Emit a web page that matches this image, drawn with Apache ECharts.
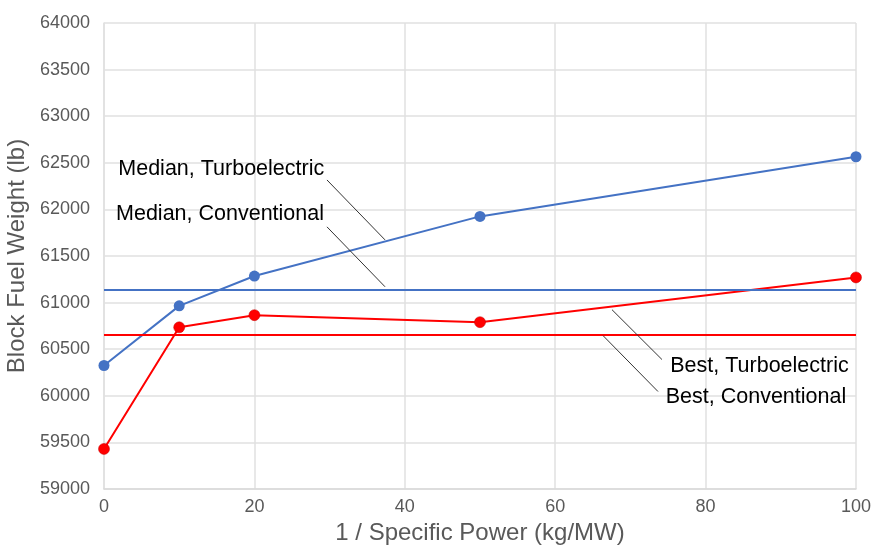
<!DOCTYPE html>
<html>
<head>
<meta charset="utf-8">
<script src="https://cdn.jsdelivr.net/npm/echarts@6/dist/echarts.min.js"></script>
<style>
html,body{margin:0;padding:0;background:#fff;}
#chart{width:875px;height:547px;}
</style>
</head>
<body>
<div id="chart"></div>
<script>
// Data
const xValues = [0, 10, 20, 50, 100];
const turboMedian = [60325, 60965, 61285, 61925, 62565];
const turboBest = [59430, 60735, 60865, 60790, 61270];
const convMedian = 61135;
const convBest = 60660;
const xTicks = [0, 20, 40, 60, 80, 100];
const yTicks = [59000, 59500, 60000, 60500, 61000, 61500, 62000, 62500, 63000, 63500, 64000];

// Annotations (data coordinates)
const annoLabels = ['Median, Turboelectric', 'Median, Conventional', 'Best, Turboelectric', 'Best, Conventional'];
const annoText = [[1.9, 62435], [1.6, 61945], [75.3, 60315], [74.7, 59985]];
const annoLeaders = [
  [[29.65, 62316], [37.37, 61673]],
  [[29.65, 61813], [37.37, 61170]],
  [[67.55, 60924], [74.2, 60389]],
  [[66.36, 60646], [73.67, 60046]]
];

const FONT = '"Liberation Sans", Arial, Helvetica, sans-serif';
const chart = echarts.init(document.getElementById('chart'), null, {renderer: 'canvas'});

function pairs(xs, ys) { return xs.map((x, i) => [x, ys[i]]); }

const option = {
  animation: false,
  backgroundColor: '#ffffff',
  grid: {left: 104, right: 19, top: 23, bottom: 58, containLabel: false, outerBoundsMode: 'none'},
  xAxis: {
    type: 'value', min: xTicks[0], max: xTicks[xTicks.length - 1], interval: 20,
    name: '1 / Specific Power (kg/MW)', nameLocation: 'middle', nameGap: 29,
    nameTextStyle: {fontFamily: FONT, fontSize: 24, color: '#595959'},
    axisLine: {show: true, lineStyle: {color: '#d9d9d9', width: 1.5}},
    axisTick: {show: false},
    axisLabel: {fontFamily: FONT, fontSize: 18, color: '#595959', margin: 9, formatter: v => String(v)},
    splitLine: {show: true, lineStyle: {color: '#e0e0e0', width: 1.5}}
  },
  yAxis: {
    type: 'value', min: yTicks[0], max: yTicks[yTicks.length - 1], interval: 500,
    name: 'Block Fuel Weight (lb)', nameLocation: 'middle', nameGap: 70,
    nameTextStyle: {fontFamily: FONT, fontSize: 24, color: '#595959'},
    axisLine: {show: true, lineStyle: {color: '#e0e0e0', width: 1.5}},
    axisTick: {show: false},
    axisLabel: {fontFamily: FONT, fontSize: 18, color: '#595959', margin: 14, formatter: v => String(v)},
    splitLine: {show: true, lineStyle: {color: '#e0e0e0', width: 1.5}}
  },
  series: [
    {
      name: 'Turboelectric Median', type: 'line', data: pairs(xValues, turboMedian),
      symbol: 'circle', symbolSize: 11,
      lineStyle: {color: '#4472C4', width: 2}, itemStyle: {color: '#4472C4'},
      markLine: {
        silent: true, symbol: 'none', label: {show: false},
        lineStyle: {color: '#4472C4', width: 2, type: 'solid'},
        data: [{yAxis: convMedian}]
      },
      z: 3
    },
    {
      name: 'Turboelectric Best', type: 'line', data: pairs(xValues, turboBest),
      symbol: 'circle', symbolSize: 11,
      lineStyle: {color: '#FF0000', width: 2}, itemStyle: {color: '#FF0000', borderColor: '#c40000', borderWidth: 0.5},
      markLine: {
        silent: true, symbol: 'none', label: {show: false},
        lineStyle: {color: '#FF0000', width: 2, type: 'solid'},
        data: [{yAxis: convBest}]
      },
      z: 3
    },
    {
      name: 'annotations', type: 'line', data: [], silent: true,
      markLine: {
        silent: true, symbol: 'none', label: {show: false},
        lineStyle: {color: '#333333', width: 1, type: 'solid'},
        data: annoLeaders.map(seg => [{coord: seg[0]}, {coord: seg[1]}])
      },
      markPoint: {
        silent: true, symbol: 'circle', symbolSize: 0,
        label: {show: true, position: 'inside', align: 'left', verticalAlign: 'middle',
          fontFamily: FONT, fontSize: 21.5, color: '#000000'},
        data: annoLabels.map((t, i) => ({coord: annoText[i], value: t, label: {formatter: t}}))
      },
      z: 4
    }
  ]
};
chart.setOption(option);
</script>
</body>
</html>
